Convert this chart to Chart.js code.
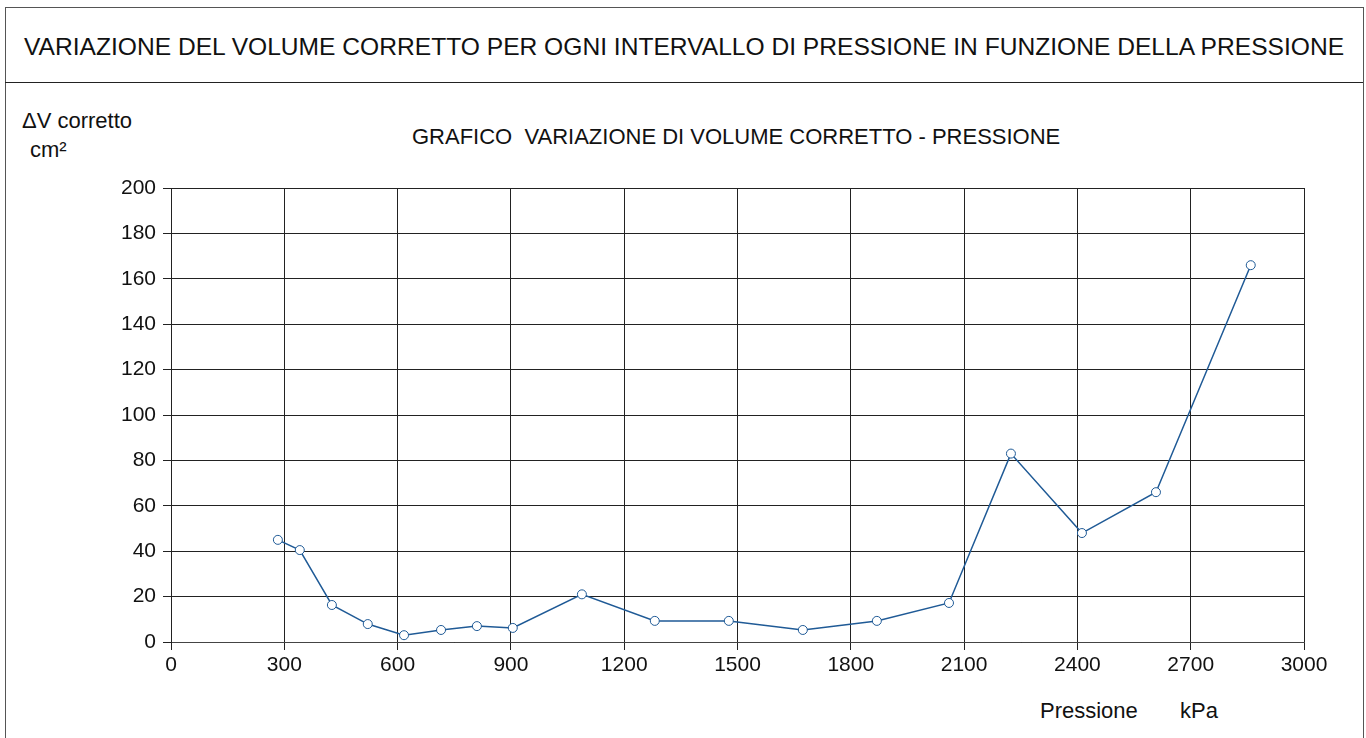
<!DOCTYPE html>
<html>
<head>
<meta charset="utf-8">
<script src="https://cdn.jsdelivr.net/npm/chart.js@4/dist/chart.umd.min.js"></script>
<style>
  body { margin: 0; background: #fff; font-family: "Liberation Sans", Arial, sans-serif; color: #111; }
  #wrap { position: relative; width: 1366px; height: 738px; overflow: hidden; }
  #frame { position: absolute; left: 5px; top: 7px; width: 1357px; height: 760px; border: 1px solid #555; }
  #divider { position: absolute; left: 5px; top: 82px; width: 1358px; border-top: 1px solid #222; }
  #title { position: absolute; left: 5px; top: 33px; width: 1358px; text-align: center; font-size: 24.6px; line-height: 28px; }
  .lbl { position: absolute; font-size: 22px; line-height: 24px; white-space: pre; }
  canvas { position: absolute; left: 0; top: 0; }
</style>
</head>
<body>
<div id="wrap">
  <div id="frame"></div>
  <div id="divider"></div>
  <div id="title">VARIAZIONE DEL VOLUME CORRETTO PER OGNI INTERVALLO DI PRESSIONE IN FUNZIONE DELLA PRESSIONE</div>
  <div class="lbl" style="left:22px; top:109px;">ΔV corretto</div>
  <div class="lbl" style="left:30px; top:138px;">cm²</div>
  <div class="lbl" style="left:412px; top:125px;">GRAFICO  VARIAZIONE DI VOLUME CORRETTO - PRESSIONE</div>
  <div class="lbl" style="left:1040px; top:699px;">Pressione</div>
  <div class="lbl" style="left:1180px; top:699px;">kPa</div>
  <canvas id="chart" width="1366" height="738"></canvas>
</div>
<script>
const pressione = [283, 341, 426, 521, 617, 715, 810, 905, 1088, 1281, 1477, 1673, 1869, 2060, 2224, 2412, 2608, 2859];
const deltaV = [45, 40.5, 16.3, 7.9, 3, 5.3, 7, 6.2, 21, 9.3, 9.3, 5.3, 9.3, 17.2, 83, 48, 66, 166];
const xTicks = [0, 300, 600, 900, 1200, 1500, 1800, 2100, 2400, 2700, 3000];
const yTicks = [0, 20, 40, 60, 80, 100, 120, 140, 160, 180, 200];

const points = pressione.map((p, i) => ({ x: p, y: deltaV[i] }));

new Chart(document.getElementById('chart').getContext('2d'), {
  type: 'line',
  data: {
    datasets: [{
      data: points,
      borderColor: '#1f5a96',
      borderWidth: 1.5,
      pointRadius: 4.5,
      pointBackgroundColor: '#fff',
      pointBorderColor: '#1f5a96',
      pointBorderWidth: 1,
      tension: 0
    }]
  },
  options: {
    responsive: false,
    animation: false,
    layout: { padding: { left: 0, top: 188, right: 62, bottom: 56 } },
    plugins: { legend: { display: false }, tooltip: { enabled: false } },
    scales: {
      x: {
        type: 'linear',
        min: 0, max: 3000,
        afterBuildTicks: s => { s.ticks = xTicks.map(v => ({ value: v })); },
        afterFit: s => { s.height = 40; },
        ticks: { color: '#111', font: { family: 'Liberation Sans', size: 21 }, padding: 3, maxRotation: 0, callback: v => String(v) },
        grid: { color: '#222', lineWidth: 1, tickLength: 8 },
        border: { color: '#444' }
      },
      y: {
        min: 0, max: 200,
        afterBuildTicks: s => { s.ticks = yTicks.map(v => ({ value: v })); },
        afterFit: s => { s.width = 171; },
        ticks: { color: '#111', font: { family: 'Liberation Sans', size: 21 }, padding: 7, callback: v => String(v) },
        grid: { color: '#222', lineWidth: 1, tickLength: 8 },
        border: { color: '#222' }
      }
    }
  }
});
</script>
</body>
</html>
